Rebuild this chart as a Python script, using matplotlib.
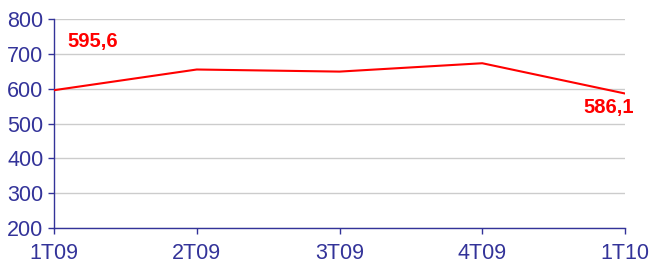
import matplotlib.pyplot as plt

quarters = ["1T09", "2T09", "3T09", "4T09", "1T10"]
values = [595.6, 655.0, 649.0, 673.0, 586.1]
first_label = "595,6"
last_label = "586,1"

navy = "#333399"

fig = plt.figure(figsize=(6.51, 2.63), dpi=100)
ax = fig.add_axes([54 / 651, 35 / 263, 571 / 651, 209 / 263])

x = list(range(len(quarters)))
ax.plot(x, values, color="#ff0000", linewidth=1.5, zorder=3)

ax.set_xlim(0, len(quarters) - 1)
ax.set_ylim(200, 800)
ax.set_yticks(range(200, 801, 100))
ax.set_xticks(x)
ax.set_xticklabels(quarters)

ax.grid(axis="y", color="#cccccc", linewidth=1)
ax.set_axisbelow(True)

for side in ["top", "right"]:
    ax.spines[side].set_visible(False)
for side in ["left", "bottom"]:
    ax.spines[side].set_color(navy)
    ax.spines[side].set_linewidth(1)

ax.tick_params(colors=navy, labelcolor=navy, labelsize=15.5, length=4.5, width=1)
ax.tick_params(axis="x", pad=6.5)
ax.tick_params(axis="y", pad=3)
for lab in ax.get_xticklabels() + ax.get_yticklabels():
    lab.set_fontfamily("Liberation Sans")

ax.annotate(first_label, (x[0], values[0]), xytext=(28, 35), textcoords="offset points",
            color="#ff0000", fontsize=14.5, fontweight="bold", family="Liberation Sans",
            ha="center", va="center")
ax.annotate(last_label, (x[-1], values[-1]), xytext=(-12, -10), textcoords="offset points",
            color="#ff0000", fontsize=14.5, fontweight="bold", family="Liberation Sans",
            ha="center", va="center", annotation_clip=False)

fig.savefig("out.png", dpi=100)
